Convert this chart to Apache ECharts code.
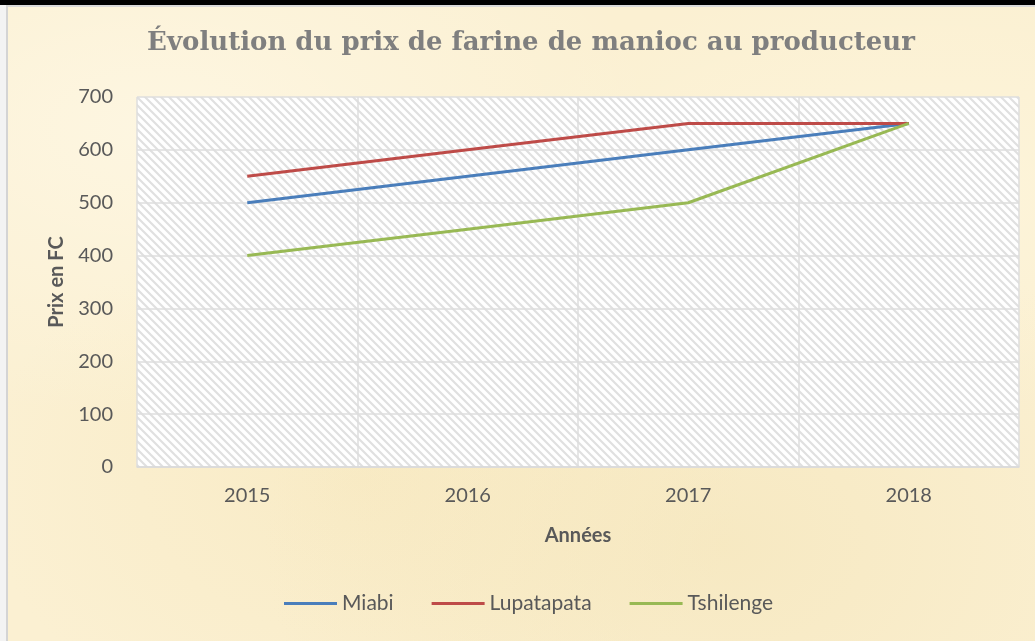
<!DOCTYPE html>
<html>
<head>
<meta charset="utf-8">
<script src="https://cdn.jsdelivr.net/npm/echarts@6/dist/echarts.min.js"></script>
<style>
  html, body { margin: 0; padding: 0; background: #000; }
  #chart {
    width: 1035px; height: 641px;
    background:
      radial-gradient(ellipse at 15% 20%, rgba(255,250,235,0.6), rgba(255,250,235,0) 40%),
      radial-gradient(ellipse at 70% 85%, rgba(240,222,170,0.4), rgba(240,222,170,0) 45%),
      radial-gradient(ellipse at 90% 30%, rgba(255,248,225,0.5), rgba(255,248,225,0) 35%),
      radial-gradient(ellipse at 35% 75%, rgba(245,228,180,0.4), rgba(245,228,180,0) 40%),
      #fbf0d2;
  }
</style>
</head>
<body>
<div id="chart"></div>
<script>
// données
const annees = ['2015', '2016', '2017', '2018'];
const miabi = [500, 550, 600, 650];
const lupatapata = [550, 600, 650, 650];
const tshilenge = [400, 450, 500, 650];
const nomsSeries = ['Miabi', 'Lupatapata', 'Tshilenge'];
const couleurs = ['#4a7ebb', '#be4b48', '#98b954'];

// motif hachuré de la zone de tracé
function hachures() {
  let c = document.createElement('canvas');
  c.width = 8; c.height = 8;
  let ctx = c.getContext('2d');
  ctx.fillStyle = '#ffffff';
  ctx.fillRect(0, 0, 8, 8);
  ctx.strokeStyle = '#e0e0e0';
  ctx.lineWidth = 2.2;
  ctx.beginPath();
  ctx.moveTo(-2, -2); ctx.lineTo(10, 10);
  ctx.moveTo(-6, 2); ctx.lineTo(6, 14);
  ctx.moveTo(2, -6); ctx.lineTo(14, 6);
  ctx.stroke();
  return c;
}

let myChart = echarts.init(document.getElementById('chart'));
let police = 'Lato, "Open Sans", sans-serif';

let series = [miabi, lupatapata, tshilenge].map((d, i) => ({
  name: nomsSeries[i],
  type: 'line',
  data: d,
  symbol: 'none',
  lineStyle: { width: 3, color: couleurs[i] },
  itemStyle: { color: couleurs[i] }
}));

myChart.setOption({
  animation: false,
  title: {
    text: 'Évolution du prix de farine de manioc au producteur',
    left: 526,
    top: 25,
    textAlign: 'center',
    textStyle: {
      fontFamily: '"DejaVu Serif", serif',
      fontWeight: 'bold',
      fontSize: 26,
      color: '#7f7f7f'
    }
  },
  graphic: [
    { type: 'rect', shape: { x: 0, y: 0, width: 1035, height: 5 }, style: { fill: '#000' }, z: 100 },
    { type: 'rect', shape: { x: 0, y: 5, width: 1035, height: 2 }, style: { fill: '#d9d9d9' }, z: 100 },
    { type: 'rect', shape: { x: 0, y: 5, width: 6, height: 636 }, style: { fill: '#f3f3f3' }, z: 100 },
    { type: 'rect', shape: { x: 6, y: 5, width: 2, height: 636 }, style: { fill: '#d4d4d4' }, z: 100 }
  ],
  grid: {
    left: 137, right: 16, top: 97, bottom: 174,
    show: true,
    backgroundColor: { image: hachures(), repeat: 'repeat' },
    borderWidth: 0
  },
  legend: {
    data: nomsSeries,
    bottom: 22,
    left: 279,
    icon: 'rect',
    itemWidth: 53,
    itemHeight: 3,
    itemGap: 38,
    textStyle: { fontFamily: police, fontSize: 21, color: '#595959' }
  },
  xAxis: {
    type: 'category',
    data: annees,
    boundaryGap: true,
    name: 'Années',
    nameLocation: 'middle',
    nameGap: 59,
    nameTextStyle: { fontFamily: police, fontSize: 20, fontWeight: 'bold', color: '#595959' },
    axisLine: { lineStyle: { color: '#d9d9d9', width: 1.5 } },
    axisTick: { show: false },
    axisLabel: { fontFamily: police, fontSize: 20, color: '#595959', margin: 19 },
    splitLine: { show: true, lineStyle: { color: '#dedede', width: 1.5 } }
  },
  yAxis: {
    type: 'value',
    min: 0, max: 700, interval: 100,
    name: 'Prix en FC',
    nameLocation: 'middle',
    nameRotate: 90,
    nameGap: 70,
    nameTextStyle: { fontFamily: police, fontSize: 20, fontWeight: 'bold', color: '#595959' },
    axisLine: { show: false },
    axisTick: { show: false },
    axisLabel: { fontFamily: police, fontSize: 20, color: '#595959', margin: 24 },
    splitLine: { lineStyle: { color: '#dedede', width: 1.5 } }
  },
  series: series
});
</script>
</body>
</html>
